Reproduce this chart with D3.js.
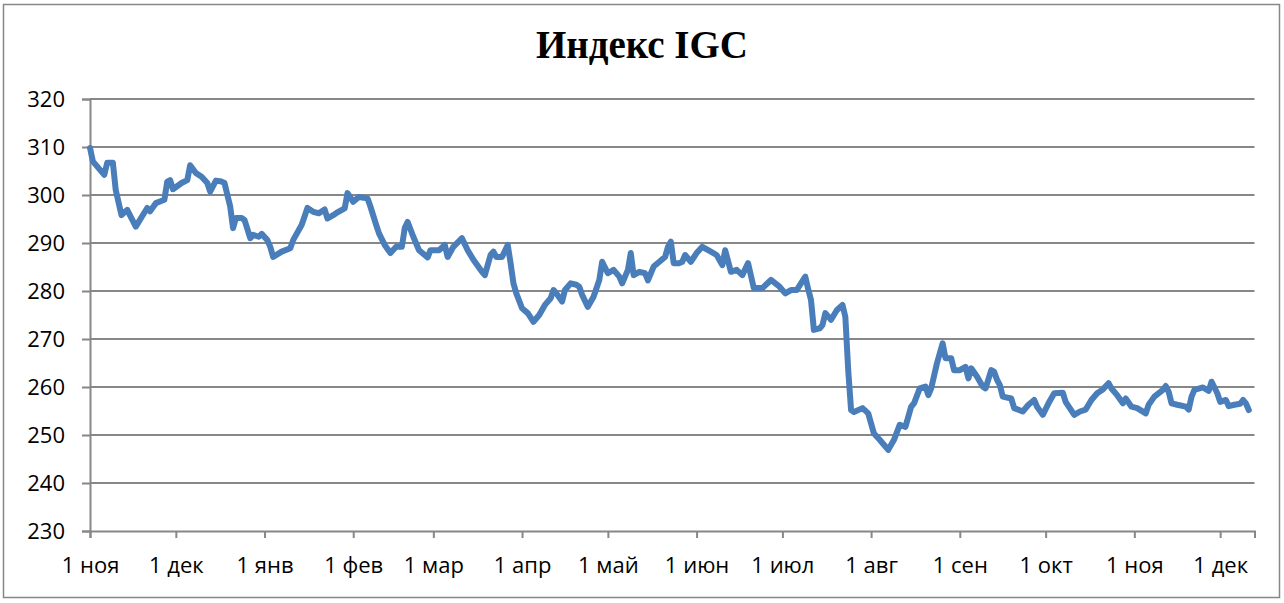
<!DOCTYPE html>
<html><head><meta charset="utf-8">
<script src="https://cdn.jsdelivr.net/npm/d3@7/dist/d3.min.js"></script>
<style>html,body{margin:0;padding:0;background:#fff;}svg{display:block;}</style>
</head><body>
<svg id="chart" width="1284" height="603"></svg>
<script>
const title = "Индекс IGC";
const dates = [
"2010-11-01","2010-11-02","2010-11-06","2010-11-07","2010-11-09","2010-11-10","2010-11-12","2010-11-14","2010-11-17","2010-11-21",
"2010-11-22","2010-11-24","2010-11-27","2010-11-28","2010-11-29","2010-11-30","2010-12-03","2010-12-05","2010-12-06","2010-12-08",
"2010-12-10","2010-12-12","2010-12-13","2010-12-15","2010-12-17","2010-12-18","2010-12-20","2010-12-21","2010-12-22","2010-12-24",
"2010-12-25","2010-12-27","2010-12-28","2010-12-30","2010-12-31","2011-01-02","2011-01-03","2011-01-04","2011-01-07","2011-01-10",
"2011-01-11","2011-01-14","2011-01-16","2011-01-18","2011-01-20","2011-01-22","2011-01-23","2011-01-25","2011-01-26","2011-01-29",
"2011-01-30","2011-02-01","2011-02-03","2011-02-06","2011-02-07","2011-02-09","2011-02-10","2011-02-12","2011-02-14","2011-02-16",
"2011-02-18","2011-02-19","2011-02-20","2011-02-22","2011-02-24","2011-02-27","2011-02-28","2011-03-03","2011-03-05","2011-03-06",
"2011-03-08","2011-03-11","2011-03-13","2011-03-15","2011-03-18","2011-03-19","2011-03-21","2011-03-22","2011-03-23","2011-03-25",
"2011-03-27","2011-03-28","2011-03-29","2011-03-30","2011-04-01","2011-04-03","2011-04-05","2011-04-07","2011-04-09","2011-04-11",
"2011-04-12","2011-04-13","2011-04-15","2011-04-16","2011-04-18","2011-04-20","2011-04-21","2011-04-22","2011-04-24","2011-04-26",
"2011-04-28","2011-04-29","2011-05-01","2011-05-03","2011-05-05","2011-05-06","2011-05-08","2011-05-09","2011-05-10","2011-05-12",
"2011-05-14","2011-05-15","2011-05-17","2011-05-19","2011-05-21","2011-05-22","2011-05-23","2011-05-24","2011-05-26","2011-05-27",
"2011-05-28","2011-05-30","2011-06-01","2011-06-03","2011-06-06","2011-06-08","2011-06-10","2011-06-11","2011-06-13","2011-06-15",
"2011-06-17","2011-06-19","2011-06-21","2011-06-24","2011-06-27","2011-06-30","2011-07-02","2011-07-04","2011-07-06","2011-07-09",
"2011-07-10","2011-07-11","2011-07-12","2011-07-14","2011-07-15","2011-07-16","2011-07-18","2011-07-20","2011-07-22","2011-07-23",
"2011-07-24","2011-07-25","2011-07-26","2011-07-29","2011-07-31","2011-08-02","2011-08-04","2011-08-06","2011-08-07","2011-08-09",
"2011-08-11","2011-08-13","2011-08-15","2011-08-16","2011-08-18","2011-08-20","2011-08-21","2011-08-22","2011-08-24","2011-08-26",
"2011-08-27","2011-08-29","2011-08-30","2011-09-01","2011-09-03","2011-09-04","2011-09-05","2011-09-07","2011-09-09","2011-09-10",
"2011-09-12","2011-09-13","2011-09-14","2011-09-15","2011-09-16","2011-09-19","2011-09-20","2011-09-23","2011-09-25","2011-09-27",
"2011-09-28","2011-09-30","2011-10-02","2011-10-04","2011-10-07","2011-10-08","2011-10-11","2011-10-13","2011-10-15","2011-10-17",
"2011-10-19","2011-10-21","2011-10-23","2011-10-24","2011-10-26","2011-10-28","2011-10-29","2011-10-31","2011-11-02","2011-11-05",
"2011-11-06","2011-11-08","2011-11-11","2011-11-12","2011-11-13","2011-11-14","2011-11-16","2011-11-19","2011-11-20","2011-11-21",
"2011-11-22","2011-11-25","2011-11-27","2011-11-28","2011-11-30","2011-12-01","2011-12-03","2011-12-04","2011-12-06","2011-12-08",
"2011-12-09","2011-12-10","2011-12-11"
];
const values = [
309.8,307,304.2,306.7,306.7,301,295.8,296.9,293.4,297.3,
296.6,298.3,299,302.8,303.1,301.2,302.5,303.1,306.2,304.6,
303.8,302.5,300.7,303,302.8,302.5,297.6,293.1,295.2,295.2,
294.8,291,291.7,291.3,291.9,290.6,289.2,287.1,288.2,288.9,
290.6,293.8,297.3,296.5,296.2,297,295.1,295.8,296.2,297.2,
300.4,298.6,299.6,299.3,297.6,293.8,292,289.6,287.9,289.2,
289.2,293.1,294.4,291.3,288.5,287,288.5,288.5,289.6,287.1,
289.2,291,288.5,286.5,284,283.3,287.5,288.2,287.1,287.1,
289.6,285.8,281.6,279.5,276.4,275.4,273.6,275,277.1,278.5,
280.2,279.5,277.8,280.2,281.6,281.3,280.9,279.2,276.7,278.8,
282.3,286.1,283.7,284.4,283,281.6,284.4,287.9,283.3,284,
283.7,282.2,285.1,286.1,287.1,289.2,290.3,285.8,285.8,286.1,
287.5,286.1,287.9,289.2,288.2,287.5,285.4,288.5,284,284.4,
283.3,285.8,280.6,280.6,282.3,280.9,279.5,280.2,280.2,283,
280.4,278.1,271.9,272.2,272.9,275.4,274,276,277.1,274.6,
263.5,255.2,254.8,255.6,254.5,250.3,249,247.6,246.9,249,
252.1,251.7,255.9,256.6,259.7,260.1,258.3,259.7,264.9,269.1,
266,266,263.5,263.5,264.2,261.8,263.9,262.2,260.1,259.7,
263.5,263.2,261.5,260.4,258,257.6,255.6,254.9,256.3,257.3,
255.9,254.2,256.6,258.7,258.8,256.9,254.2,254.9,255.3,257.3,
258.7,259.5,260.8,259.7,258.3,256.6,257.6,255.9,255.6,254.5,
256.3,258,259.4,260.2,259,256.6,256.3,255.9,255.3,258,
259.4,259.9,259.2,261.1,258.7,256.9,257.3,256,256.3,256.5,
257.3,256.6,255.2
];
const yTicks = [230,240,250,260,270,280,290,300,310,320];
const xTickDates = ["2010-11-01","2010-12-01","2011-01-01","2011-02-01","2011-03-01","2011-04-01","2011-05-01","2011-06-01","2011-07-01","2011-08-01","2011-09-01","2011-10-01","2011-11-01","2011-12-01"];
const xTickLabels = ["1 ноя","1 дек","1 янв","1 фев","1 мар","1 апр","1 май","1 июн","1 июл","1 авг","1 сен","1 окт","1 ноя","1 дек"];
const xDomain = ["2010-11-01","2011-12-13"];

const parse = d3.utcParse("%Y-%m-%d");
const data = dates.map((d,i)=>({date:parse(d), v:values[i]}));

const svg = d3.select("#chart");
const L = 90, R = 1254.5, T = 99, B = 531;
const gridColor = "#878787";
const font = "'Open Sans', sans-serif";

svg.append("rect").attr("x",3.5).attr("y",4.5).attr("width",1276).attr("height",593)
  .attr("fill","#fff").attr("stroke",gridColor).attr("stroke-width",1.5);

const x = d3.scaleUtc().domain(xDomain.map(parse)).range([L,R]);
const y = d3.scaleLinear().domain([230,320]).range([B,T]);

// gridlines
svg.append("g").selectAll("line").data(yTicks.filter(t=>t!==230)).join("line")
  .attr("x1",L).attr("x2",R).attr("y1",d=>y(d)).attr("y2",d=>y(d))
  .attr("stroke",gridColor).attr("stroke-width",2);

// y axis
const yAxis = svg.append("g").attr("transform",`translate(${L},0)`)
  .call(d3.axisLeft(y).tickValues(yTicks).tickSize(8).tickPadding(17).tickFormat(d3.format("d")));
yAxis.select(".domain").attr("stroke",gridColor).attr("stroke-width",2);
yAxis.selectAll(".tick line").attr("stroke",gridColor).attr("stroke-width",2);
yAxis.selectAll("text").attr("font-family",font).attr("font-size",22).attr("fill","#000");

// x axis
const xAxis = svg.append("g").attr("transform",`translate(0,${B})`)
  .call(d3.axisBottom(x).tickValues(xTickDates.map(parse)).tickSize(7).tickPadding(19)
    .tickFormat((d,i)=>xTickLabels[i]));
xAxis.select(".domain").attr("stroke",gridColor).attr("stroke-width",2);
xAxis.selectAll(".tick line").attr("stroke",gridColor).attr("stroke-width",2);
xAxis.selectAll("text").attr("font-family",font).attr("font-size",22).attr("fill","#000");

// line
svg.append("path").datum(data)
  .attr("fill","none").attr("stroke","#4A7EBB").attr("stroke-width",6)
  .attr("stroke-linejoin","round").attr("stroke-linecap","round")
  .attr("d", d3.line().x(d=>x(d.date)).y(d=>y(d.v)));

// title
svg.append("text").attr("x",642).attr("y",58).attr("text-anchor","middle")
  .attr("font-family","'Liberation Serif', 'Times New Roman', serif").attr("font-weight","bold")
  .attr("font-size",39).attr("fill","#000").text(title);
</script>
</body></html>
